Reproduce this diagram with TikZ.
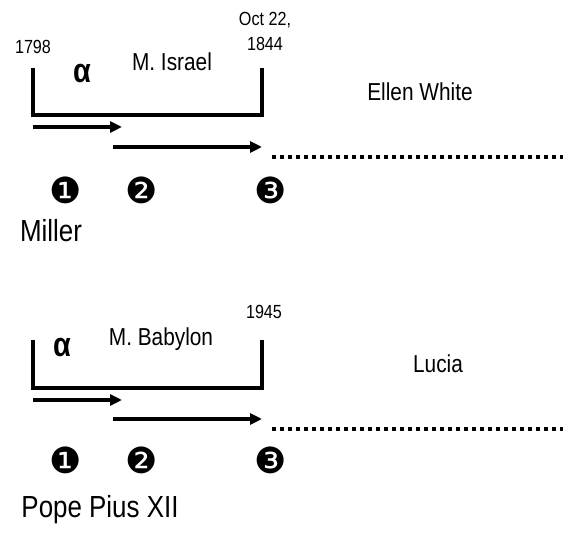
\documentclass[tikz,border=0pt]{standalone}
\usepackage{fontspec}
\setmainfont{Liberation Sans}[FakeStretch=0.85]
\newfontfamily\dingfont{DejaVu Sans}
\usetikzlibrary{arrows.meta}

\begin{document}
\begin{tikzpicture}[
  x=1pt, y=1pt,
  date/.style={align=center, inner sep=0pt, font=\fontsize{19}{25}\selectfont},
  lbl/.style={inner sep=0pt, font=\fontsize{24.5}{28}\selectfont},
  who/.style={inner sep=0pt, font=\fontsize{30.5}{34}\selectfont},
  alf/.style={inner sep=0pt, font=\fontsize{34}{36}\selectfont\bfseries},
  num/.style={inner sep=0pt, font=\dingfont\fontsize{36}{38}\selectfont},
  brk/.style={line width=3.6pt},
  arr/.style={-{Triangle[length=12pt, width=11pt]}, line width=3.2pt},
  dotln/.style={line width=3.2pt, dash pattern=on 4pt off 4pt}
]
\useasboundingbox (0,0) rectangle (563,535);

%% ─── Arriba: M. Israel ─────────────────────────────────────
\node[date]  (d1a) at (33,  488) {1798};
\node[date]  (d1b) at (265, 504) {Oct 22,\\1844};
\node[alf]   (al1) at (82,  461) {α};
\node[lbl]   (m1)  at (172, 473) {M. Israel};
\node[lbl]   (p1)  at (420, 443) {Ellen White};

\coordinate (b1tl) at (33,  467);
\coordinate (b1br) at (262, 420);
\coordinate (b1tr) at (262, 467);
\draw[brk] (b1tl) |- (b1br) -- (b1tr);

\coordinate (a1s) at (33,  408);
\coordinate (a1e) at (122, 408);
\coordinate (a2s) at (113, 388);
\coordinate (a2e) at (262, 388);
\coordinate (l1s) at (272, 378);
\coordinate (l1e) at (563, 378);
\draw[arr]   (a1s) -- (a1e);
\draw[arr]   (a2s) -- (a2e);
\draw[dotln] (l1s) -- (l1e);

\node[num]   (n11) at (66,  345) {❶};
\node[num]   (n12) at (142, 345) {❷};
\node[num]   (n13) at (271, 345) {❸};
\node[who]   (w1)  at (51,  304) {Miller};

%% ─── Abajo: M. Babylon ─────────────────────────────────────
\node[date]  (d2b) at (264, 223) {1945};
\node[alf]   (al2) at (62,  187) {α};
\node[lbl]   (m2)  at (161, 196) {M. Babylon};
\node[lbl]   (p2)  at (438, 171) {Lucia};

\coordinate (b2tl) at (33,  195);
\coordinate (b2br) at (262, 147);
\coordinate (b2tr) at (262, 195);
\draw[brk] (b2tl) |- (b2br) -- (b2tr);

\coordinate (a3s) at (33,  135);
\coordinate (a3e) at (122, 135);
\coordinate (a4s) at (113, 116);
\coordinate (a4e) at (262, 116);
\coordinate (l2s) at (272, 106);
\coordinate (l2e) at (563, 106);
\draw[arr]   (a3s) -- (a3e);
\draw[arr]   (a4s) -- (a4e);
\draw[dotln] (l2s) -- (l2e);

\node[num]   (n21) at (66,  75) {❶};
\node[num]   (n22) at (142, 75) {❷};
\node[num]   (n23) at (271, 75) {❸};
\node[who]   (w2)  at (100, 25) {Pope Pius XII};

\end{tikzpicture}
\end{document}
